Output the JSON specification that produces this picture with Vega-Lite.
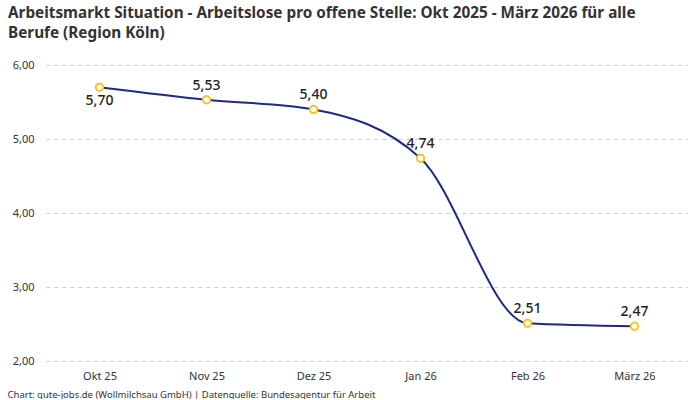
{
  "$schema": "https://vega.github.io/schema/vega-lite/v6.json",
  "width": 642,
  "height": 296,
  "autosize": {"type": "pad"},
  "padding": {"left": 7, "top": 5, "right": 0, "bottom": 0},
  "background": "white",
  "title": {
    "text": ["Arbeitsmarkt Situation - Arbeitslose pro offene Stelle: Okt 2025 - März 2026 für alle", "Berufe (Region Köln)"],
    "anchor": "start",
    "frame": "bounds",
    "dx": 1,
    "font": "Noto Sans",
    "fontSize": 15.3,
    "fontWeight": "bold",
    "color": "#333333",
    "lineHeight": 20,
    "offset": 18
  },
  "data": {
    "values": [
      {"monat": "Okt 25", "wert": 5.70, "unten": true},
      {"monat": "Nov 25", "wert": 5.53, "unten": false},
      {"monat": "Dez 25", "wert": 5.40, "unten": false},
      {"monat": "Jan 26", "wert": 4.74, "unten": false},
      {"monat": "Feb 26", "wert": 2.51, "unten": false},
      {"monat": "März 26", "wert": 2.47, "unten": false}
    ]
  },
  "encoding": {
    "x": {
      "field": "monat",
      "type": "ordinal",
      "sort": null,
      "scale": {"type": "point", "padding": 0.5},
      "axis": {
        "title": "Chart: gute-jobs.de (Wollmilchsau GmbH) | Datenquelle: Bundesagentur für Arbeit",
        "titleAnchor": "start",
        "titleAlign": "left",
        "titleX": -39,
        "titleY": 36,
        "titleBaseline": "alphabetic",
        "titleFontSize": 9.5,
        "titleFontWeight": "normal",
        "titleColor": "#333333",
        "titleFont": "Noto Sans",
        "labelAngle": 0,
        "labelFont": "Noto Sans",
        "labelFontSize": 11,
        "labelColor": "#333333",
        "labelPadding": 9,
        "domain": false,
        "ticks": false
      }
    },
    "y": {
      "field": "wert",
      "type": "quantitative",
      "scale": {"domain": [2, 6], "nice": false, "zero": false},
      "axis": {
        "title": null,
        "values": [2, 3, 4, 5, 6],
        "format": ".2f",
        "labelFont": "Noto Sans",
        "labelFontSize": 11,
        "labelColor": "#333333",
        "labelPadding": 12,
        "domain": false,
        "ticks": false,
        "grid": true,
        "gridDash": [4, 4],
        "gridColor": "#cccccc"
      }
    }
  },
  "layer": [
    {
      "mark": {"type": "line", "interpolate": "monotone", "color": "#1b2a8a", "strokeWidth": 2}
    },
    {
      "mark": {"type": "point", "filled": true, "fill": "white", "stroke": "#f7c325", "strokeWidth": 2, "size": 55, "opacity": 1}
    },
    {
      "transform": [{"filter": "!datum.unten"}],
      "mark": {"type": "text", "dy": -14, "font": "Noto Sans", "fontSize": 14, "fontWeight": 500, "color": "#222222"},
      "encoding": {"text": {"field": "wert", "type": "quantitative", "format": ".2f"}}
    },
    {
      "transform": [{"filter": "datum.unten"}],
      "mark": {"type": "text", "dy": 14, "font": "Noto Sans", "fontSize": 14, "fontWeight": 500, "color": "#222222"},
      "encoding": {"text": {"field": "wert", "type": "quantitative", "format": ".2f"}}
    }
  ],
  "config": {
    "view": {"stroke": null},
    "locale": {
      "number": {"decimal": ",", "thousands": ".", "grouping": [3], "currency": ["", " €"]}
    }
  }
}
